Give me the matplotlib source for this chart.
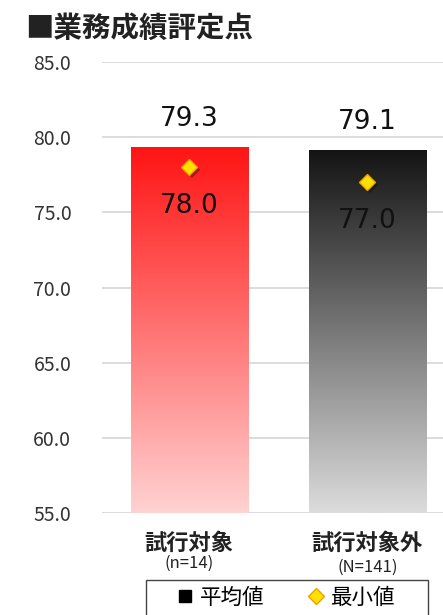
import numpy as np
import matplotlib
matplotlib.use("Agg")
from matplotlib import pyplot as plt
from matplotlib.lines import Line2D
from matplotlib.patches import Rectangle
from matplotlib.colors import to_rgb
from matplotlib.transforms import ScaledTranslation

plt.rcParams['font.family'] = ['Noto Sans CJK JP', 'DejaVu Sans']

# data
categories = ["試行対象", "試行対象外"]
counts = ["(n=14)", "(N=141)"]
means = [79.3, 79.1]
minimums = [78.0, 77.0]
yticks = [55, 60, 65, 70, 75, 80, 85]

top_colors = ["#ff1414", "#141414"]
bottom_colors = ["#ffd2d2", "#dcdcdc"]

fig = plt.figure(figsize=(4.43, 6.15), dpi=100)
ax = fig.add_axes([0.230, 0.166, 0.770, 0.733])

ax.set_ylim(55, 85)
ax.set_yticks(yticks)
ax.set_yticklabels(["%.1f" % v for v in yticks], fontsize=14, color="#333333")
ax.tick_params(axis='y', length=0, pad=22)
ax.tick_params(axis='x', length=0)
ax.set_xticks([])
for s in ax.spines.values():
    s.set_visible(False)
ax.grid(axis='y', color="#d9d9d9", linewidth=1.3, zorder=0)
ax.set_axisbelow(True)

width = 0.657
shadow = ScaledTranslation(2/72, -2/72, fig.dpi_scale_trans)
count_offsets = [-36, -39]
for i, (m, mn) in enumerate(zip(means, minimums)):
    c0 = np.array(to_rgb(top_colors[i]))
    c1 = np.array(to_rgb(bottom_colors[i]))
    t = np.linspace(0, 1, 256)[:, None]
    grad = (c0[None, :] * (1 - t) + c1[None, :] * t)[:, None, :]
    ax.imshow(grad, extent=[i - width / 2, i + width / 2, 55, m],
              aspect='auto', origin='upper', zorder=2)
    ax.annotate("%.1f" % m, (i, m), xytext=(0, 21), textcoords='offset points',
                ha='center', va='center', fontsize=19, color="#111111",
                family='DejaVu Sans')
    # shadow then diamond
    ax.plot([i], [mn], marker='D', markersize=8, color='#00000055',
            markeredgewidth=0, zorder=3, transform=ax.transData + shadow)
    ax.plot([i], [mn], marker='D', markersize=8, color='#ffe000',
            markeredgecolor='#f0a000', markeredgewidth=1, zorder=4)
    ax.annotate("%.1f" % mn, (i, mn), xytext=(0, -28), textcoords='offset points',
                ha='center', va='center', fontsize=19, color="#111111",
                family='DejaVu Sans')
    ax.annotate(categories[i], (i, 55), xytext=(0, -22), textcoords='offset points',
                ha='center', va='center', fontsize=16, fontweight='bold',
                color="#222222", annotation_clip=False)
    ax.annotate(counts[i], (i, 55), xytext=(0, count_offsets[i]),
                textcoords='offset points', ha='center', va='center',
                fontsize=12, color="#222222", annotation_clip=False)
ax.set_xlim(-0.49, 1.424)

fig.text(0.056, 0.953, "■業務成績評定点", fontsize=20.5, fontweight='bold',
         color="#222222", ha='left', va='center')

# legend box (runs off the bottom edge like the reference)
fig.patches.append(Rectangle((146/443, -0.05), 282/443, 0.05 + 1 - 580/615,
                             transform=fig.transFigure, fill=False,
                             edgecolor="#444444", linewidth=1.0))
handles = [
    Line2D([], [], marker='s', linestyle='none', color='black', markersize=8),
    Line2D([], [], marker='D', linestyle='none', color='#ffe000',
           markeredgecolor='#f0a000', markersize=8),
]
leg = fig.legend(handles, ["平均値", "最小値"], loc='center left',
                 bbox_to_anchor=(174/443, 1 - 598/615),
                 borderaxespad=0, ncol=2, fontsize=15.5, frameon=False,
                 handletextpad=0.2, columnspacing=1.9, borderpad=0,
                 handlelength=1.0)

fig.savefig("out.png", dpi=100)
